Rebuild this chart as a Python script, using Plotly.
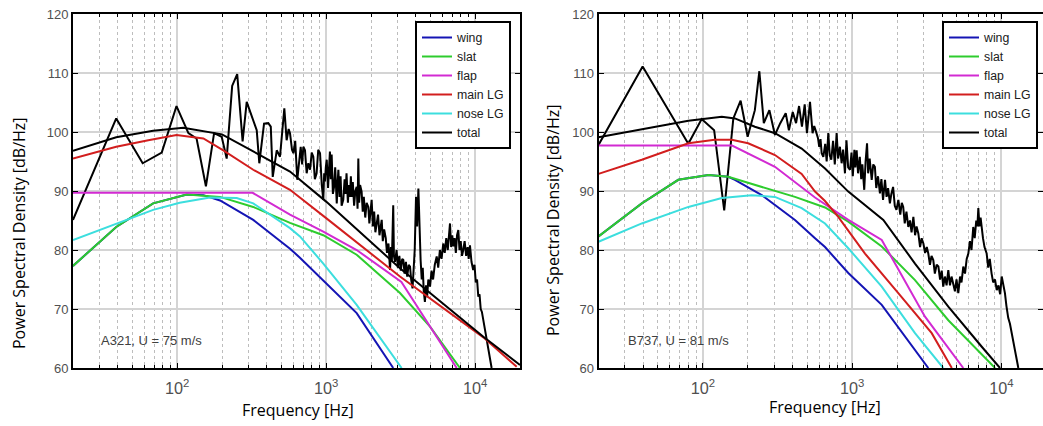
import math
import plotly.graph_objects as go

# ---------------- A321 (left panel) ----------------
a_wing_f = [20, 39, 69, 116, 150, 194, 324, 572, 667, 957, 1603, 2820]
a_wing_v = [77.3, 83.9, 87.9, 89.4, 89.3, 88.4, 85.1, 80.2, 78.7, 74.9, 69.3, 60.0]
a_slat_f = [20, 39, 69, 116, 194, 324, 572, 957, 1603, 3130, 4980, 7910]
a_slat_v = [77.3, 83.9, 87.9, 89.4, 89.0, 87.3, 84.6, 82.5, 79.2, 72.7, 67.0, 60.0]
a_flap_f = [20, 321, 572, 957, 1603, 3200, 7520]
a_flap_v = [89.7, 89.7, 86.0, 83.1, 80.0, 74.6, 60.0]
a_main_f = [20, 39, 64, 99, 150, 204, 324, 572, 1000, 3130, 11350, 19000]
a_main_v = [95.5, 97.5, 98.6, 99.5, 98.9, 96.9, 93.6, 90.2, 85.4, 75.5, 65.2, 60.2]
a_nose_f = [20, 39, 69, 104, 166, 251, 324, 572, 667, 957, 1603, 3210]
a_nose_v = [81.7, 84.5, 86.8, 88.0, 88.9, 88.8, 87.9, 83.7, 82.3, 77.7, 70.7, 60.0]
a_tot_f = [20, 39, 69, 110, 200, 324, 572, 1000, 3130, 11350, 20000]
a_tot_v = [96.8, 99.1, 100.2, 100.7, 99.6, 96.7, 93.3, 88.2, 76.9, 65.3, 60.5]
a_meas_f = [20, 39, 58.7, 78.8, 99, 119, 135, 156, 177, 199, 215, 234, 253, 275, 293,
            324, 342, 356, 383, 409, 425, 438, 466, 490, 524, 543, 560, 572, 590, 603,
            620, 640, 660, 675, 690, 703, 721, 740, 759, 780, 800, 820, 840, 863, 885,
            910, 935, 957, 970, 982, 995, 1009, 1030, 1045, 1060, 1075, 1089, 1110,
            1130, 1150, 1178, 1195, 1208, 1230, 1250, 1270, 1303, 1330, 1350, 1370,
            1400, 1420, 1445, 1465, 1483, 1510, 1540, 1570, 1603, 1625, 1644, 1665,
            1690, 1730, 1760, 1790, 1830, 1870, 1919, 1950, 1985, 2020, 2060, 2100,
            2140, 2183, 2230, 2280, 2320, 2360, 2400, 2450, 2512, 2560, 2620, 2650,
            2685, 2720, 2760, 2820, 2850, 2900, 2970, 3030, 3100, 3170, 3240, 3296,
            3360, 3430, 3500, 3580, 3655, 3720, 3800, 3870, 3930, 4010, 4080, 4160,
            4230, 4305, 4380, 4450, 4520, 4600, 4680, 4760, 4850, 4980, 5100, 5220,
            5360, 5520, 5650, 5800, 5950, 6110, 6250, 6400, 6550, 6680, 6780, 6900,
            7020, 7140, 7280, 7420, 7560, 7710, 7850, 8000, 8160, 8320, 8500, 8700,
            8900, 9050, 9230, 9450, 9700, 9900, 10100, 10300, 10500, 10700, 10900,
            11100, 11350, 11600, 11900, 12250, 12550, 12900]
a_meas_v = [85.1, 102.3, 94.7, 96.5, 104.4, 99.8, 98.9, 90.8, 99.8, 99.2, 95.5, 107.8,
            109.8, 98.4, 105.1, 102.0, 100.3, 94.7, 101.4, 101.5, 100.9, 92.4, 96.9,
            95.8, 104.0, 98.6, 100.5, 99.8, 97.0, 96.4, 98.5, 91.9, 96.0, 97.5, 94.5,
            97.5, 96.9, 93.0, 94.7, 93.6, 96.5, 95.8, 92.0, 93.0, 97.0, 96.4, 91.0,
            88.5, 93.0, 91.6, 94.0, 95.3, 90.5, 93.5, 96.7, 92.0, 96.2, 89.5, 90.7,
            94.0, 87.9, 91.5, 93.6, 89.0, 92.5, 87.5, 88.5, 92.0, 89.5, 93.0, 88.0,
            91.0, 89.0, 92.5, 89.0, 91.5, 87.5, 90.0, 90.7, 87.0, 95.5, 88.0, 91.0,
            89.9, 86.5, 89.0, 85.5, 88.0, 87.3, 84.5, 87.5, 88.5, 84.0, 86.5, 83.0,
            84.5, 86.0, 82.5, 84.0, 85.1, 81.5, 83.5, 82.0, 79.5, 81.1, 78.5, 76.6,
            80.5, 78.0, 87.6, 79.0, 78.0, 80.0, 77.0, 79.0, 76.5, 78.5, 78.3, 76.0,
            78.0, 75.5, 77.5, 77.2, 75.0, 73.5, 77.0, 80.0, 89.0, 84.0, 90.4, 82.0,
            78.3, 75.0, 77.0, 73.0, 71.2, 74.0, 72.0, 75.0, 73.8, 76.5, 75.0, 77.5,
            78.9, 77.0, 80.0, 78.5, 81.1, 79.5, 82.0, 80.0, 83.0, 84.5, 80.5, 82.5,
            80.6, 82.0, 79.5, 82.5, 83.4, 80.0, 81.5, 79.0, 80.0, 81.5, 79.0, 80.5,
            78.5, 80.8, 78.0, 76.6, 77.5, 74.5, 75.0, 72.1, 72.5, 70.0, 69.5, 68.1,
            66.5, 65.0, 63.1, 61.5, 60.0]

# ---------------- B737 (right panel) ----------------
b_wing_f = [20, 39, 68.5, 109, 148, 164, 248, 414, 564, 658, 942, 1578, 3236]
b_wing_v = [82.3, 87.9, 91.9, 92.7, 92.4, 91.9, 89.3, 85.1, 82.0, 80.5, 76.1, 70.7, 60.0]
b_slat_f = [20, 39, 68.5, 109, 148, 248, 414, 658, 942, 1578, 2636, 4406, 9060]
b_slat_v = [82.3, 87.9, 91.9, 92.7, 92.4, 90.7, 89.0, 87.2, 84.8, 80.6, 74.9, 68.1, 60.0]
b_flap_f = [20, 157, 304, 564, 942, 1578, 1938, 3076, 5550]
b_flap_v = [97.7, 97.7, 94.1, 88.9, 85.1, 81.7, 77.7, 68.7, 60.0]
b_main_f = [20, 39, 80, 120, 156, 201, 304, 459, 564, 658, 807, 1219, 2037, 3411, 4650]
b_main_v = [92.9, 95.3, 98.1, 98.7, 98.7, 98.1, 96.1, 92.9, 89.9, 88.3, 85.6, 79.4, 72.7, 65.9, 60.0]
b_nose_f = [20, 39, 80, 134, 212, 304, 459, 658, 942, 1578, 2636, 4075]
b_nose_v = [81.4, 84.5, 87.3, 88.8, 89.3, 89.0, 87.1, 84.5, 80.3, 73.8, 65.9, 60.0]
b_tot_f = [20, 39, 80, 134, 164, 223, 304, 459, 658, 942, 1617, 2636, 4406, 7380, 9775]
b_tot_v = [99.1, 100.5, 101.9, 102.6, 102.3, 100.9, 99.8, 97.2, 93.8, 89.9, 85.1, 77.7, 70.4, 63.6, 60.0]
b_meas_f = [20, 39.5, 79.9, 98.2, 119, 139, 160, 179, 199.5, 223, 239, 256, 279, 304,
            330, 359, 377, 400, 421, 441, 461, 481, 498, 522, 543, 557, 572, 590, 602,
            614, 625, 641, 660, 675, 692, 708, 725, 745, 765, 787, 805, 828, 850, 870,
            895, 916, 940, 968, 990, 1010, 1035, 1050, 1072, 1095, 1125, 1150, 1170,
            1205, 1230, 1258, 1280, 1310, 1352, 1385, 1420, 1450, 1490, 1535, 1570,
            1610, 1660, 1700, 1740, 1790, 1830, 1880, 1930, 1980, 2040, 2100, 2150,
            2198, 2250, 2310, 2377, 2440, 2500, 2570, 2640, 2700, 2775, 2850, 2920,
            3000, 3080, 3160, 3236, 3320, 3400, 3495, 3580, 3680, 3780, 3880, 3980,
            4075, 4180, 4290, 4406, 4520, 4630, 4750, 4880, 5000, 5140, 5280, 5400,
            5550, 5700, 5850, 6000, 6150, 6300, 6475, 6620, 6780, 6900, 7000, 7120,
            7250, 7380, 7520, 7700, 7960, 8150, 8350, 8590, 8800, 9050, 9300, 9550,
            9800, 10040, 10300, 10550, 10800, 11100, 11400, 11720, 12050, 12400,
            12700, 12970]
b_meas_v = [97.8, 111.1, 98.0, 102.2, 100.3, 86.7, 102.3, 105.3, 99.2, 103.7, 110.3,
            101.5, 103.7, 99.5, 101.5, 103.2, 100.3, 103.4, 101.5, 104.4, 100.9, 104.7,
            99.8, 105.1, 99.8, 101.0, 100.1, 99.0, 97.5, 98.8, 96.4, 95.8, 98.0, 95.0,
            99.8, 96.0, 95.3, 98.5, 94.5, 99.8, 95.5, 97.5, 94.7, 97.0, 93.0, 98.6,
            94.0, 93.6, 96.5, 92.5, 97.0, 94.0, 96.9, 93.0, 95.8, 92.0, 94.5, 90.2,
            95.0, 98.1, 93.0, 95.5, 91.9, 94.5, 94.1, 90.5, 92.5, 89.6, 92.0, 88.5,
            91.9, 89.0, 90.5, 87.9, 89.5, 90.7, 87.5, 86.8, 88.5, 86.0, 88.0, 87.3,
            84.5, 86.5, 83.9, 85.0, 83.0, 85.6, 82.5, 84.0, 82.8, 80.5, 82.0, 81.1,
            79.5, 80.5, 79.4, 77.5, 79.0, 78.3, 76.0, 77.5, 77.2, 75.0, 76.5, 73.8,
            75.5, 74.0, 76.6, 74.0, 75.5, 74.4, 73.0, 75.0, 72.7, 75.5, 74.5, 77.2,
            76.0, 78.5, 79.4, 81.5, 80.0, 83.9, 82.0, 85.0, 84.0, 87.1, 84.0, 85.5,
            83.4, 82.0, 80.5, 79.4, 77.0, 78.5, 76.0, 74.5, 75.0, 73.2, 74.0, 72.5,
            75.5, 74.0, 72.7, 70.5, 68.5, 67.5, 65.9, 64.0, 62.0, 61.0, 60.0]

names = ["wing", "slat", "flap", "main LG", "nose LG", "total"]
colors = ["#1414b4", "#2ecc2e", "#d22ad2", "#d21e1e", "#3cdede", "#000000"]

W, H = 1043, 426
fig = go.Figure()

panels = [
    ("x", "y", "legend", [(a_wing_f, a_wing_v), (a_slat_f, a_slat_v), (a_flap_f, a_flap_v),
                          (a_main_f, a_main_v), (a_nose_f, a_nose_v), (a_tot_f, a_tot_v)],
     (a_meas_f, a_meas_v)),
    ("x2", "y2", "legend2", [(b_wing_f, b_wing_v), (b_slat_f, b_slat_v), (b_flap_f, b_flap_v),
                             (b_main_f, b_main_v), (b_nose_f, b_nose_v), (b_tot_f, b_tot_v)],
     (b_meas_f, b_meas_v)),
]

for xa, ya, lg, series, meas in panels:
    fig.add_trace(go.Scatter(x=meas[0], y=meas[1], mode="lines", xaxis=xa, yaxis=ya,
                             line=dict(color="black", width=2), showlegend=False,
                             hoverinfo="skip"))
    for name, col, (fx, fv) in zip(names, colors, series):
        fig.add_trace(go.Scatter(x=fx, y=fv, mode="lines", name=name, xaxis=xa, yaxis=ya,
                                 legend=lg, line=dict(color=col, width=2)))

tickfont = dict(family="Liberation Sans, Arial", size=13, color="#505050")
common_x = dict(type="log", showline=True, linecolor="black", linewidth=2, mirror="allticks",
                ticks="inside", ticklen=5, tickcolor="black", dtick=1, automargin=False,
                exponentformat="power", showexponent="all", tickfont=tickfont,
                ticklabelstandoff=5,
                showgrid=True, gridcolor="#d4d4d4", gridwidth=1.5, zeroline=False,
                minor=dict(ticks="inside", ticklen=3, tickcolor="black", showgrid=True,
                           gridcolor="#bdbdbd", griddash="dot", gridwidth=1))
common_y = dict(range=[60, 120], dtick=10, showline=True, linecolor="black", linewidth=2,
                mirror="allticks", ticks="inside", ticklen=5, tickcolor="black",
                automargin=False, tickfont=tickfont, showgrid=True, gridcolor="#d4d4d4",
                gridwidth=1.5, zeroline=False)

ytop, ybot = 14, 368
ydom = [1 - ybot / H, 1 - ytop / H]
legfont = dict(family="Liberation Sans, Arial", size=12.3, color="#202020")
fig.update_layout(
    template="none",
    width=W, height=H, margin=dict(l=0, r=0, t=0, b=0, autoexpand=False),
    paper_bgcolor="white", plot_bgcolor="white",
    xaxis=dict(common_x, domain=[73 / W, 520 / W], range=[math.log10(20), math.log10(20000)],
               anchor="y"),
    yaxis=dict(common_y, domain=ydom, anchor="x"),
    xaxis2=dict(common_x, domain=[598.5 / W, 1.0],
                range=[math.log10(20), math.log10(20) + (W - 598.5) / 149.3], anchor="y2"),
    yaxis2=dict(common_y, domain=ydom, anchor="x2"),
    legend=dict(x=511 / W, y=1 - 21 / H, xanchor="right", yanchor="top",
                bgcolor="white", bordercolor="black", borderwidth=2, font=legfont),
    legend2=dict(x=1038 / W, y=1 - 21 / H, xanchor="right", yanchor="top",
                 bgcolor="white", bordercolor="black", borderwidth=2, font=legfont),
    showlegend=True,
)

title_font = dict(family="Open Sans, Noto Sans", size=16, color="black")
ann_font = dict(family="Liberation Sans, Arial", size=13, color="#404040")
fig.add_annotation(text="Power Spectral Density [dB/Hz]", textangle=-90, x=19 / W, y=1 - 233 / H,
                   xref="paper", yref="paper", xanchor="center", yanchor="middle",
                   showarrow=False, font=title_font)
fig.add_annotation(text="Power Spectral Density [dB/Hz]", textangle=-90, x=553 / W, y=1 - 220 / H,
                   xref="paper", yref="paper", xanchor="center", yanchor="middle",
                   showarrow=False, font=title_font)
fig.add_annotation(text="Frequency [Hz]", x=298 / W, y=1 - 410 / H, xref="paper", yref="paper",
                   xanchor="center", yanchor="middle", showarrow=False, font=title_font)
fig.add_annotation(text="Frequency [Hz]", x=825 / W, y=1 - 407 / H, xref="paper", yref="paper",
                   xanchor="center", yanchor="middle", showarrow=False, font=title_font)
fig.add_annotation(text="A321, U = 75 m/s", x=math.log10(30), y=64.7, xref="x", yref="y",
                   xanchor="left", yanchor="middle", showarrow=False, font=ann_font)
fig.add_annotation(text="B737, U = 81 m/s", x=math.log10(30.5), y=64.7, xref="x2", yref="y2",
                   xanchor="left", yanchor="middle", showarrow=False, font=ann_font)

fig.write_html("out.html", config={"displayModeBar": False},
               post_script="document.body.style.margin='0';")
